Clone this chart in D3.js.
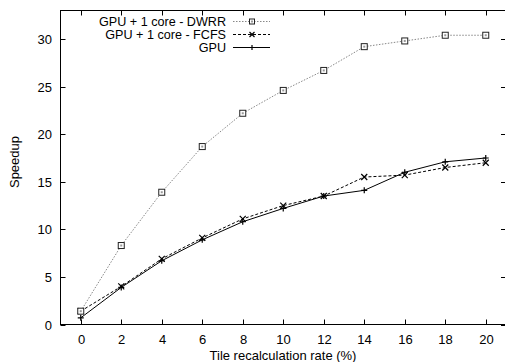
<!DOCTYPE html>
<html>
<head>
<meta charset="utf-8">
<script src="https://cdn.jsdelivr.net/npm/d3@7"></script>
<style>
body { margin: 0; background: #fff; }
text { font-family: "Liberation Sans", Arial, sans-serif; }
</style>
</head>
<body>
<script>
"use strict";

// tile recalculation rate (%)
var rates = [0, 2, 4, 6, 8, 10, 12, 14, 16, 18, 20];
var dwrr = [1.4, 8.3, 13.9, 18.7, 22.2, 24.6, 26.7, 29.2, 29.8, 30.4, 30.4];
var fcfs = [1.4, 4.0, 6.9, 9.1, 11.1, 12.5, 13.5, 15.5, 15.7, 16.5, 17.0];
var gpu = [0.7, 3.9, 6.7, 8.9, 10.8, 12.2, 13.5, 14.1, 16.0, 17.1, 17.5];
var yTicks = [0, 5, 10, 15, 20, 25, 30];
var seriesNames = ["GPU + 1 core - DWRR", "GPU + 1 core - FCFS", "GPU"];

var width = 505, height = 362;
var plotLeft = 60.5, plotRight = 506, plotTop = 10.5, plotBottom = 324.5;
var fs = 13;

var svg = d3.select("body").append("svg")
	.attr("width", width)
	.attr("height", height);

var x = d3.scaleLinear().domain([-1, 21]).range([plotLeft, plotRight]);
var y = d3.scaleLinear().domain([0, 33]).range([plotBottom, plotTop]);

// frame
svg.append("rect")
	.attr("x", plotLeft).attr("y", plotTop)
	.attr("width", plotRight - plotLeft).attr("height", plotBottom - plotTop)
	.attr("fill", "none").attr("stroke", "#000").attr("stroke-width", 1);

// ticks, inward on all four sides
var tl = 5;
rates.forEach(function (r) {
	var px = Math.round(x(r)) + 0.5;
	svg.append("line").attr("x1", px).attr("x2", px).attr("y1", plotBottom).attr("y2", plotBottom - tl).attr("stroke", "#000");
	svg.append("line").attr("x1", px).attr("x2", px).attr("y1", plotTop).attr("y2", plotTop + tl).attr("stroke", "#000");
	svg.append("text").attr("x", px).attr("y", 344).attr("text-anchor", "middle")
		.attr("font-size", fs).text(r);
});
yTicks.forEach(function (v) {
	var py = Math.round(y(v)) + 0.5;
	svg.append("line").attr("x1", plotLeft).attr("x2", plotLeft + tl).attr("y1", py).attr("y2", py).attr("stroke", "#000");
	svg.append("line").attr("x1", plotRight).attr("x2", plotRight - tl).attr("y1", py).attr("y2", py).attr("stroke", "#000");
	svg.append("text").attr("x", 52).attr("y", py + 4.5).attr("text-anchor", "end")
		.attr("font-size", fs).text(v);
});

// axis labels
svg.append("text").attr("x", 283).attr("y", 360).attr("text-anchor", "middle")
	.attr("font-size", fs).text("Tile recalculation rate (%)");
svg.append("text").attr("transform", "translate(19," + 162 + ") rotate(-90)")
	.attr("text-anchor", "middle").attr("font-size", fs).text("Speedup");

var series = [
	{ name: seriesNames[0], values: dwrr, color: "#888", dash: "1.5,1.5", marker: "square" },
	{ name: seriesNames[1], values: fcfs, color: "#000", dash: "3,2", marker: "cross" },
	{ name: seriesNames[2], values: gpu, color: "#000", dash: null, marker: "plus" }
];

var line = d3.line()
	.x(function (d) { return x(d[0]); })
	.y(function (d) { return y(d[1]); });

function drawMarker(g, type, cx, cy, sz) {
	var h = sz / 2;
	if (type === "square") {
		g.append("rect").attr("x", cx - h).attr("y", cy - h).attr("width", sz).attr("height", sz)
			.attr("fill", "#fff").attr("stroke", "#222").attr("stroke-width", 1);
		g.append("rect").attr("x", cx - 1).attr("y", cy - 1).attr("width", 2).attr("height", 2)
			.attr("fill", "#999");
	} else if (type === "cross") {
		g.append("path").attr("d", "M" + (cx - h) + "," + (cy - h) + "L" + (cx + h) + "," + (cy + h) +
			"M" + (cx - h) + "," + (cy + h) + "L" + (cx + h) + "," + (cy - h))
			.attr("stroke", "#000").attr("stroke-width", 1.2);
	} else {
		g.append("path").attr("d", "M" + (cx - h) + "," + cy + "L" + (cx + h) + "," + cy +
			"M" + cx + "," + (cy - h) + "L" + cx + "," + (cy + h))
			.attr("stroke", "#000").attr("stroke-width", 1.2);
	}
}

// draw GPU first so DWRR/FCFS overlay like the original
series.slice().reverse().forEach(function (s) {
	var pts = rates.map(function (r, i) { return [r, s.values[i]]; });
	var g = svg.append("g");
	g.append("path").datum(pts)
		.attr("d", line)
		.attr("fill", "none")
		.attr("stroke", s.color)
		.attr("stroke-width", 1)
		.attr("stroke-dasharray", s.dash);
	pts.forEach(function (p) { drawMarker(g, s.marker, x(p[0]), y(p[1]), 6); });
});

// legend
var legY = [21.5, 34.5, 47.5];
series.forEach(function (s, i) {
	var g = svg.append("g");
	g.append("text").attr("x", 226).attr("y", legY[i] + 4.5).attr("text-anchor", "end")
		.attr("font-size", 12.6).text(s.name);
	g.append("line").attr("x1", 233).attr("x2", 270).attr("y1", legY[i]).attr("y2", legY[i])
		.attr("stroke", s.color).attr("stroke-width", 1).attr("stroke-dasharray", s.dash);
	drawMarker(g, s.marker, 252, legY[i], 5);
});
</script>
</body>
</html>
